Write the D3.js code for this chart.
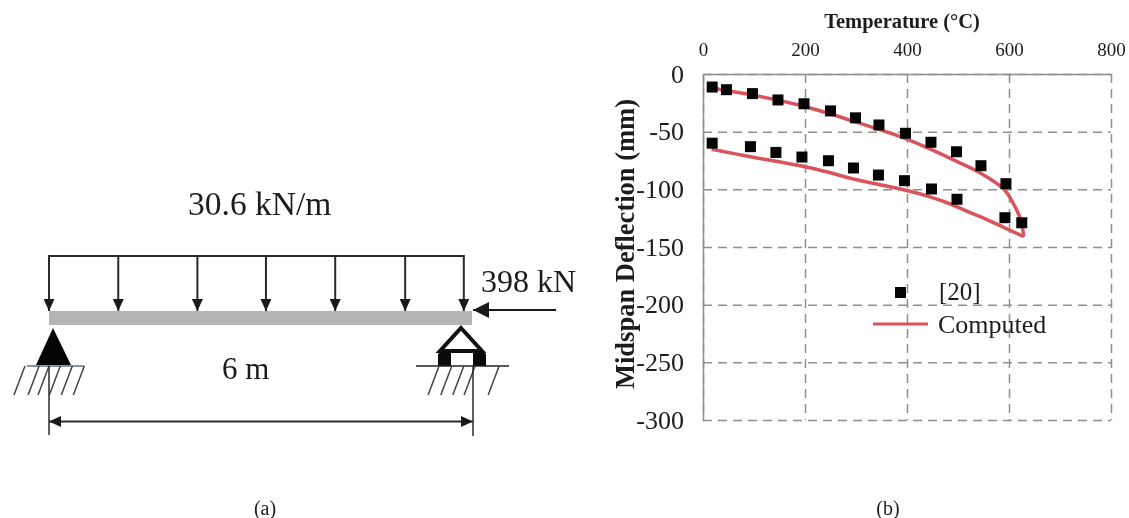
<!DOCTYPE html>
<html>
<head>
<meta charset="utf-8">
<script src="https://cdn.jsdelivr.net/npm/d3@7"></script>
<style>
    html, body { margin: 0; padding: 0; background: #fff; }
    svg { display: block; filter: blur(0.35px); }
    text { font-family: "Liberation Serif", serif; fill: #1c1c1c; }
</style>
</head>
<body>
<svg id="figure" width="1129" height="518"></svg>
<script>
// Ticks of the chart
const xTicks = [0, 200, 400, 600, 800];
const yTicks = [0, -50, -100, -150, -200, -250, -300];

// Reference [20]
const refTemp = [18, 46, 97, 147, 198, 250, 299, 345, 397, 447, 497, 545, 594, 625,
    18, 93, 143, 194, 246, 295, 344, 395, 448, 498, 592];
const refDefl = [-11.3, -13.6, -17, -22.5, -25.8, -32, -38, -44.2, -51.4, -59.2, -67.4, -79.5, -95.1, -129,
    -60, -63, -68, -72, -75.2, -81.5, -87.6, -92.5, -99.7, -108.6, -124.6];

// Computed curve, the two branches meet at the tip
const lowerTemp = [17, 93, 193, 246, 295, 395, 445, 484, 523, 563, 592, 629];
const lowerDefl = [-65.3, -71.7, -79.8, -85.2, -91, -100.6, -106.5, -112.5, -120, -127.5, -133.5, -141];
const upperTemp = [18, 33, 100, 198, 295, 397, 445, 491, 543, 590, 608, 623, 629];
const upperDefl = [-11.5, -13.3, -18.5, -28, -41, -56, -65, -74.5, -85.6, -100, -112, -126.6, -141];

// Beam sketch, positions along the beam in metres
const loadArrows = [0, 0.98, 2.1, 3.07, 4.05, 5.04, 5.87];
const hatchLeft = [-0.34, -0.14, 0, 0.16, 0.33, 0.5];
const hatchRight = [5.52, 5.7, 5.87, 6.03, 6.37];

const svg = d3.select("#figure");
const defs = svg.append("defs");

/**
 * Adds a filled arrow head marker
 *
 * @param id marker id
 * @param len length of the head
 * @param wide width of the head
 */
function addHead(id, len, wide) {
    defs.append("marker")
        .attr("id", id)
        .attr("viewBox", "0 0 " + len + " " + wide)
        .attr("refX", len).attr("refY", wide / 2)
        .attr("markerWidth", len).attr("markerHeight", wide)
        .attr("markerUnits", "userSpaceOnUse")
        .attr("orient", "auto-start-reverse")
        .append("path")
        .attr("d", "M0,0L" + len + "," + (wide / 2) + "L0," + wide + "Z")
        .attr("fill", "#1a1a1a");
}

addHead("head", 12, 11);
addHead("bigHead", 16, 16);

/**
 * Draws the line chart (b)
 */
function drawChart() {
    let x = d3.scaleLinear().domain([0, 800]).range([703, 1111]);
    let y = d3.scaleLinear().domain([0, -300]).range([74, 420]);

    // Grid comes from the tick lines of the axes
    let xAxis = svg.append("g")
        .attr("transform", "translate(0,74)")
        .call(d3.axisTop(x).tickValues(xTicks).tickSizeInner(-346).tickSizeOuter(0).tickPadding(18));
    let yAxis = svg.append("g")
        .attr("transform", "translate(703,0)")
        .call(d3.axisLeft(y).tickValues(yTicks).tickFormat(function (d) { return String(d); })
            .tickSizeInner(-408).tickSizeOuter(0).tickPadding(19));

    xAxis.selectAll("text").attr("font-size", 19).style("font-family", "Liberation Serif").attr("fill", "#1c1c1c");
    yAxis.selectAll("text").attr("font-size", 26).style("font-family", "Liberation Serif").attr("fill", "#1c1c1c");
    svg.selectAll(".tick line")
        .attr("stroke", "#8f8f8f")
        .attr("stroke-width", 1.5)
        .attr("stroke-dasharray", "9 6");
    svg.selectAll(".domain")
        .attr("stroke", "#8f8f8f")
        .attr("stroke-width", 1.5);

    // Computed curve
    let line = d3.line()
        .x(function (d) { return x(d[0]); })
        .y(function (d) { return y(d[1]); })
        .curve(d3.curveCatmullRom);
    svg.append("path")
        .attr("d", line(d3.zip(lowerTemp, lowerDefl)))
        .attr("fill", "none").attr("stroke", "#d9545c").attr("stroke-width", 3.5);
    svg.append("path")
        .attr("d", line(d3.zip(upperTemp, upperDefl)))
        .attr("fill", "none").attr("stroke", "#d9545c").attr("stroke-width", 3.5);

    // Reference points
    svg.append("g").selectAll("rect")
        .data(d3.zip(refTemp, refDefl))
        .join("rect")
        .attr("x", function (d) { return x(d[0]) - 5.5; })
        .attr("y", function (d) { return y(d[1]) - 5.5; })
        .attr("width", 11).attr("height", 11)
        .attr("fill", "#050505");

    // Titles
    svg.append("text")
        .attr("x", 902).attr("y", 28)
        .attr("text-anchor", "middle")
        .attr("font-size", 20.5).attr("font-weight", "bold")
        .text("Temperature (°C)");
    svg.append("text")
        .attr("transform", "translate(634,244) rotate(-90)")
        .attr("text-anchor", "middle")
        .attr("font-size", 26.5).attr("font-weight", "bold")
        .text("Midspan Deflection (mm)");

    // Legend
    svg.append("rect")
        .attr("x", 895).attr("y", 287)
        .attr("width", 11).attr("height", 11)
        .attr("fill", "#050505");
    svg.append("line")
        .attr("x1", 873).attr("x2", 928).attr("y1", 324).attr("y2", 324)
        .attr("stroke", "#d9545c").attr("stroke-width", 3);
    svg.append("text").attr("x", 939).attr("y", 300).attr("font-size", 25).text("[20]");
    svg.append("text").attr("x", 938).attr("y", 333).attr("font-size", 26).text("Computed");
}

/**
 * Draws the beam sketch (a)
 */
function drawBeam() {
    let b = d3.scaleLinear().domain([0, 6]).range([49, 473]);
    let ink = "#2a2a2a";

    // Beam
    svg.append("rect")
        .attr("x", b(0)).attr("y", 311)
        .attr("width", b(6) - b(0) - 1).attr("height", 14)
        .attr("fill", "#b5b5b5");

    // Distributed load
    svg.append("line")
        .attr("x1", b(loadArrows[0]) - 1).attr("x2", b(loadArrows[6]) + 1)
        .attr("y1", 256).attr("y2", 256)
        .attr("stroke", ink).attr("stroke-width", 2);
    svg.append("g").selectAll("line")
        .data(loadArrows)
        .join("line")
        .attr("x1", function (d) { return b(d); })
        .attr("x2", function (d) { return b(d); })
        .attr("y1", 256).attr("y2", 311)
        .attr("stroke", ink).attr("stroke-width", 2)
        .attr("marker-end", "url(#head)");

    // Axial force
    svg.append("line")
        .attr("x1", 556).attr("x2", 473).attr("y1", 310).attr("y2", 310)
        .attr("stroke", "#1a1a1a").attr("stroke-width", 2)
        .attr("marker-end", "url(#bigHead)");

    // Pin support
    svg.append("path")
        .attr("d", "M53,328L71,365L36,365Z")
        .attr("fill", "#050505");
    svg.append("line")
        .attr("x1", 27).attr("x2", 84).attr("y1", 366).attr("y2", 366)
        .attr("stroke", "#5f6f80").attr("stroke-width", 1.5);

    // Roller support
    svg.append("path")
        .attr("d", "M461,328L482,351L440,351Z")
        .attr("fill", "none").attr("stroke", "#111").attr("stroke-width", 4);
    svg.append("path")
        .attr("d", "M438,354L442,351L451,351L451,366L438,366ZM486,354L482,351L473,351L473,366L486,366Z")
        .attr("fill", "#0a0a0a");
    svg.append("line")
        .attr("x1", 416).attr("x2", 509).attr("y1", 366).attr("y2", 366)
        .attr("stroke", "#222").attr("stroke-width", 1.5);

    // Ground hatching
    svg.append("g").selectAll("line")
        .data(hatchLeft.concat(hatchRight))
        .join("line")
        .attr("x1", function (d) { return b(d); })
        .attr("x2", function (d) { return b(d) - 11; })
        .attr("y1", 366).attr("y2", 395)
        .attr("stroke", "#444").attr("stroke-width", 1.5);

    // Span dimension
    svg.append("line")
        .attr("x1", b(0)).attr("x2", b(0)).attr("y1", 366).attr("y2", 435)
        .attr("stroke", ink).attr("stroke-width", 1.5);
    svg.append("line")
        .attr("x1", b(6)).attr("x2", b(6)).attr("y1", 366).attr("y2", 436)
        .attr("stroke", ink).attr("stroke-width", 1.5);
    svg.append("line")
        .attr("x1", b(0)).attr("x2", b(6)).attr("y1", 421.5).attr("y2", 421.5)
        .attr("stroke", ink).attr("stroke-width", 2)
        .attr("marker-start", "url(#head)")
        .attr("marker-end", "url(#head)");

    // Labels
    svg.append("text").attr("x", 188).attr("y", 215).attr("font-size", 33.5).text("30.6 kN/m");
    svg.append("text").attr("x", 481).attr("y", 292).attr("font-size", 32).text("398 kN");
    svg.append("text").attr("x", 222).attr("y", 379).attr("font-size", 31).text("6 m");
}

drawBeam();
drawChart();

// Panel captions
svg.append("text").attr("x", 265).attr("y", 515).attr("text-anchor", "middle").attr("font-size", 20).text("(a)");
svg.append("text").attr("x", 888).attr("y", 515).attr("text-anchor", "middle").attr("font-size", 20).text("(b)");
</script>
</body>
</html>
